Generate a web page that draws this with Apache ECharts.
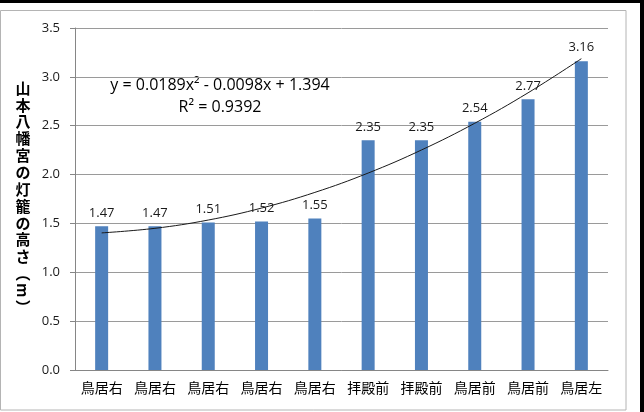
<!DOCTYPE html>
<html>
<head>
<meta charset="utf-8">
<script src="https://cdn.jsdelivr.net/npm/echarts@6/dist/echarts.min.js"></script>
<style>
  html, body { margin: 0; padding: 0; background: #fff; }
  #chart { width: 644px; height: 412px; }
</style>
</head>
<body>
<div id="chart"></div>
<script>
// Lantern locations (categories) and their heights in metres
const categories = ['鳥居右', '鳥居右', '鳥居右', '鳥居右', '鳥居右', '拝殿前', '拝殿前', '鳥居前', '鳥居前', '鳥居左'];
const heights = [1.47, 1.47, 1.51, 1.52, 1.55, 2.35, 2.35, 2.54, 2.77, 3.16];

// Quadratic trendline: y = a·x² + b·x + c, x = 1..n
const trendCoef = [0.0189, -0.0098, 1.394];
const trendEquation = 'y = 0.0189x² - 0.0098x + 1.394';
const trendR2 = 'R² = 0.9392';

const yTicks = { min: 0, max: 3.5, interval: 0.5 };
const yAxisTitle = ['山', '本', '八', '幡', '宮', 'の', '灯', '籠', 'の', '高', 'さ', '︵', 'm', '︶'];

const trendValues = categories.map((_, i) => {
  const x = i + 1;
  return trendCoef[0] * x * x + trendCoef[1] * x + trendCoef[2];
});

const numFont = '"Open Sans", "Liberation Sans", sans-serif';
const jpFont = '"Noto Sans CJK JP", sans-serif';

const chart = echarts.init(document.getElementById('chart'), null, { renderer: 'canvas' });

// Vertical axis title, one glyph per line; the Latin "m" is turned sideways
const titleGraphics = yAxisTitle.map((ch, i) => ({
  type: 'text',
  x: 23,
  y: 88 + i * 16.85,
  rotation: ch === 'm' ? -Math.PI / 2 : 0,
  style: {
    text: ch,
    font: 'bold 15px ' + jpFont,
    fill: '#000',
    align: 'center',
    verticalAlign: 'middle'
  }
}));

chart.setOption({
  animation: false,
  backgroundColor: '#fff',
  grid: { left: 75, right: 36, top: 28, bottom: 42, containLabel: false },
  xAxis: {
    type: 'category',
    data: categories,
    axisLine: { show: true, lineStyle: { color: '#868686', width: 1 } },
    axisTick: { show: false },
    axisLabel: {
      interval: 0,
      margin: 11,
      color: '#000',
      fontSize: 14,
      fontFamily: jpFont
    },
    splitLine: { show: false }
  },
  yAxis: {
    type: 'value',
    min: yTicks.min,
    max: yTicks.max,
    interval: yTicks.interval,
    axisLine: { show: true, lineStyle: { color: '#868686', width: 1 } },
    axisTick: { show: true, length: 5, lineStyle: { color: '#868686' } },
    axisLabel: {
      margin: 15,
      color: '#1a1a1a',
      fontSize: 13,
      fontFamily: numFont,
      formatter: v => v.toFixed(1)
    },
    splitLine: { show: true, lineStyle: { color: '#9a9a9a', width: 1 } }
  },
  series: [
    {
      type: 'bar',
      data: heights,
      barWidth: 13,
      itemStyle: { color: '#4f81bd' },
      label: {
        show: true,
        position: 'top',
        distance: 7,
        color: '#1a1a1a',
        fontSize: 13,
        fontFamily: numFont,
        formatter: p => p.value.toFixed(2)
      },
      z: 2
    },
    {
      type: 'line',
      data: trendValues,
      smooth: 0.4,
      symbol: 'none',
      lineStyle: { color: '#1a1a1a', width: 1 },
      z: 3
    }
  ],
  graphic: [
    // outer frame: grey chart border plus heavy black top and right edges
    { type: 'rect', shape: { x: 0.5, y: 10.5, width: 625.5, height: 399.5 },
      style: { fill: null, stroke: '#b4b4b4', lineWidth: 1 }, silent: true },
    { type: 'rect', shape: { x: 0, y: 0, width: 644, height: 3 }, style: { fill: '#000' }, silent: true },
    { type: 'rect', shape: { x: 640, y: 0, width: 4, height: 412 }, style: { fill: '#000' }, silent: true },
    { type: 'text', x: 220, y: 85,
      style: { text: trendEquation, font: '16px ' + numFont, fill: '#000', align: 'center', verticalAlign: 'middle' } },
    { type: 'text', x: 220, y: 107,
      style: { text: trendR2, font: '16px ' + numFont, fill: '#000', align: 'center', verticalAlign: 'middle' } }
  ].concat(titleGraphics)
});
</script>
</body>
</html>
